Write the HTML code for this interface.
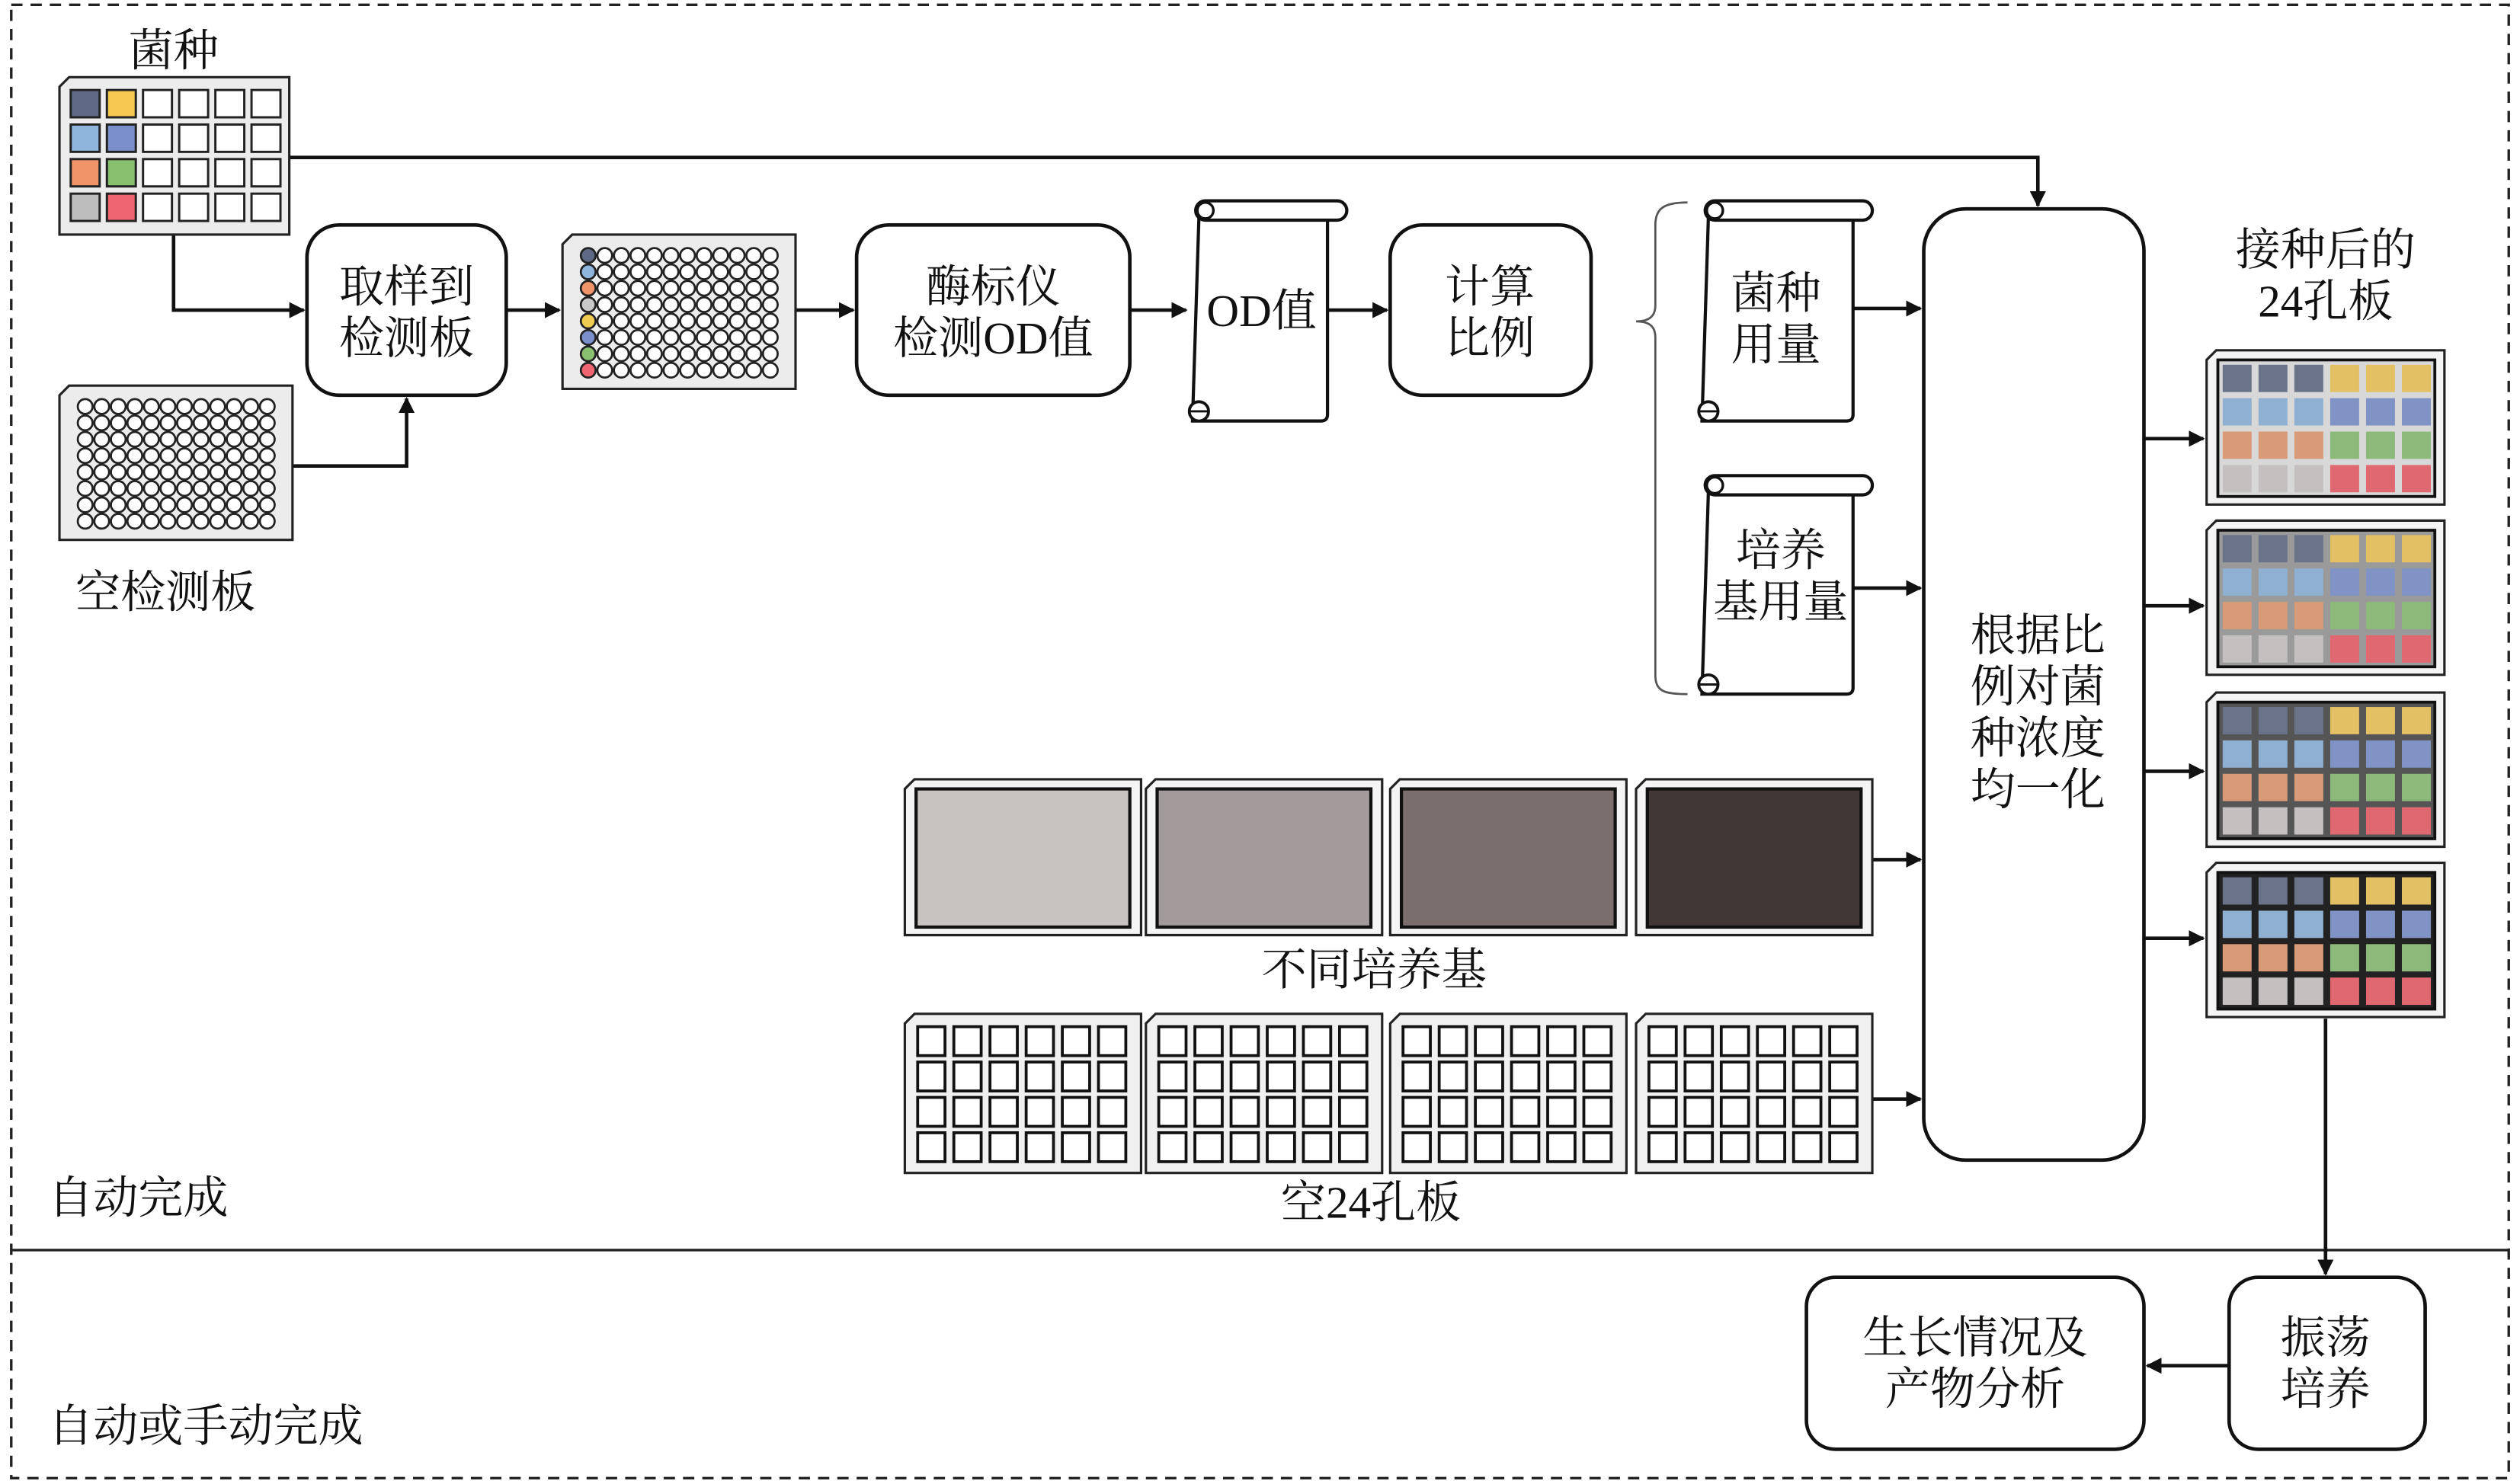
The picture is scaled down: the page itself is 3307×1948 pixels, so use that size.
<!DOCTYPE html>
<html><head><meta charset="utf-8"><style>
html,body{margin:0;padding:0;background:#fff;}
svg{display:block;}
text{font-family:"Liberation Serif","Noto Serif CJK SC",serif;fill:#111;}
</style></head><body>
<svg id="s" width="3307" height="1948" viewBox="0 0 1568 923.6" xmlns="http://www.w3.org/2000/svg">
<defs><marker id="a" markerWidth="10" markerHeight="10" refX="9" refY="5" orient="auto" markerUnits="userSpaceOnUse"><path d="M0,0 L10,5 L0,10 Z" fill="#111"/></marker></defs>
<rect x="7" y="3" width="1554" height="917" fill="none" stroke="#222" stroke-width="1.6" stroke-dasharray="7,5"/>
<line x1="7" y1="778" x2="1561" y2="778" stroke="#222" stroke-width="1.6"/>
<g id="g" stroke="#111" stroke-width="2.2" fill="none">
<rect x="191" y="140" width="124" height="106" rx="20" fill="#fff"/>
<rect x="533" y="140" width="170" height="106" rx="20" fill="#fff"/>
<rect x="865" y="140" width="125" height="106" rx="20" fill="#fff"/>
<rect x="1197" y="130" width="137" height="592" rx="26" fill="#fff"/>
<rect x="1387" y="795" width="122" height="107" rx="18" fill="#fff"/>
<rect x="1124" y="795" width="210" height="107" rx="18" fill="#fff"/>
<polyline points="108,146 108,193 189,193" marker-end="url(#a)"/>
<polyline points="180,290 253,290 253,248" marker-end="url(#a)"/>
<polyline points="180,98 1268,98 1268,128" marker-end="url(#a)"/>
<line x1="315" y1="193" x2="348" y2="193" marker-end="url(#a)"/>
<line x1="495" y1="193" x2="531" y2="193" marker-end="url(#a)"/>
<line x1="703" y1="193" x2="738" y2="193" marker-end="url(#a)"/>
<line x1="826" y1="193" x2="863" y2="193" marker-end="url(#a)"/>
<line x1="1152" y1="192" x2="1195" y2="192" marker-end="url(#a)"/>
<line x1="1152" y1="366" x2="1195" y2="366" marker-end="url(#a)"/>
<line x1="1165" y1="535" x2="1195" y2="535" marker-end="url(#a)"/>
<line x1="1165" y1="684" x2="1195" y2="684" marker-end="url(#a)"/>
<line x1="1334" y1="273" x2="1371" y2="273" marker-end="url(#a)"/>
<line x1="1334" y1="377" x2="1371" y2="377" marker-end="url(#a)"/>
<line x1="1334" y1="480" x2="1371" y2="480" marker-end="url(#a)"/>
<line x1="1334" y1="584" x2="1371" y2="584" marker-end="url(#a)"/>
<line x1="1447" y1="634" x2="1447" y2="793" marker-end="url(#a)"/>
<line x1="1387" y1="850" x2="1336" y2="850" marker-end="url(#a)"/>
<path d="M1050,126 C1035,126 1030,130 1030,140 L1030,190 C1030,197 1026,200 1018,200 C1026,200 1030,203 1030,210 L1030,420 C1030,430 1035,432 1050,432" stroke-width="1.3" stroke="#555"/>
</g>
<g id="dyn"></g>
<g font-size="28" text-anchor="middle">
<text x="108" y="41">菌种</text>
<text x="103" y="378">空检测板</text>
<text x="253" y="188">取样到</text><text x="253" y="220">检测板</text>
<text x="618" y="188">酶标仪</text><text x="618" y="220">检测OD值</text>
<text x="785" y="203">OD值</text>
<text x="927" y="188">计算</text><text x="927" y="220">比例</text>
<text x="1105" y="192">菌种</text><text x="1105" y="224">用量</text>
<text x="1108" y="352">培养</text><text x="1108" y="384">基用量</text>
<text x="1268" y="405">根据比</text><text x="1268" y="437">例对菌</text><text x="1268" y="469">种浓度</text><text x="1268" y="501">均一化</text>
<text x="1447" y="165">接种后的</text><text x="1447" y="197">24孔板</text>
<text x="855" y="613">不同培养基</text>
<text x="853" y="758">空24孔板</text>
<text x="1447" y="842">振荡</text><text x="1447" y="874">培养</text>
<text x="1229" y="842">生长情况及</text><text x="1229" y="874">产物分析</text>
</g>
<g font-size="28">
<text x="30" y="755">自动完成</text>
<text x="30" y="897">自动或手动完成</text>
</g>
</svg>
<script>
var NS="http://www.w3.org/2000/svg",d=document.getElementById("dyn");
function el(t,a){var e=document.createElementNS(NS,t);for(var k in a)e.setAttribute(k,a[k]);d.appendChild(e);return e;}
function plate(x,y,w,h,bg){el("path",{d:"M"+(x+6)+","+y+" L"+(x+w)+","+y+" L"+(x+w)+","+(y+h)+" L"+x+","+(y+h)+" L"+x+","+(y+6)+" Z",fill:bg||"#ececec",stroke:"#222","stroke-width":1.5});}
function scroll(x,y,w,h){
 el("path",{d:"M"+(x+6)+","+(y+10)+" L"+(x+w-12)+","+(y+10)+" L"+(x+w-12)+","+(y+h-4)+" Q"+(x+w-12)+","+(y+h)+" "+(x+w-16)+","+(y+h)+" L"+(x+2)+","+(y+h)+" L"+(x+6)+","+(y+10)+" Z",fill:"#fff",stroke:"#111","stroke-width":2});
 el("rect",{x:x+4,y:y,width:w-4,height:12,rx:6,fill:"#fff",stroke:"#111","stroke-width":2});
 el("circle",{cx:x+10,cy:y+6,r:5,fill:"#fff",stroke:"#111","stroke-width":1.6});
 el("circle",{cx:x+6,cy:y+h-6,r:6,fill:"#fff",stroke:"#111","stroke-width":1.8});
 el("line",{x1:x,y1:y+h-6,x2:x+12,y2:y+h-6,stroke:"#111","stroke-width":1.4});
}
scroll(740,125,98,137);scroll(1057,125,108,137);scroll(1057,296,108,136);
plate(37,48,143,98);
var sc=[["#5e6a85","#f5c850"],["#8fb5dc","#7b8fcc"],["#f0956a","#88c070"],["#bdbdbd","#ef6670"]];
for(var r=0;r<4;r++)for(var c=0;c<6;c++){el("rect",{x:44+c*22.5,y:56+r*21.5,width:18,height:17,fill:c<2?sc[r][c]:"#fff",stroke:"#222","stroke-width":1.4});}
function p96(x,y,col){plate(x,y,145,96);for(var r=0;r<8;r++)for(var c=0;c<12;c++){el("circle",{cx:x+16+c*10.3,cy:y+13+r*10.2,r:4.6,fill:(col&&c==0)?col[r]:"#fff",stroke:"#222","stroke-width":1.3});}}
p96(350,146,["#5e6a85","#8fb5dc","#f0956a","#c8c8c8","#f0cc50","#7b8fcc","#88c070","#ef6670"]);
p96(37,240,null);
var mc=["#c8c2c1","#a39b9b","#7b6f6e","#413836"],xs=[563,713,865,1018];
for(var i=0;i<4;i++){plate(xs[i],485,147,97,"#f4f4f4");el("rect",{x:xs[i]+7,y:491,width:133,height:86,fill:mc[i],stroke:"#111","stroke-width":2});}
for(var i=0;i<4;i++){plate(xs[i],631,147,99,"#f0f0f0");for(var r=0;r<4;r++)for(var c=0;c<6;c++)el("rect",{x:xs[i]+8+c*22.5,y:639+r*22,width:17,height:18,fill:"#fff",stroke:"#111","stroke-width":1.8});}
var L=["#6b7389","#8fb0d0","#d99a78","#c4c0c0"],R=["#e3c064","#7f93c5","#8dba7a","#e06870"],ys=[218,324,431,537],gb=["#d8d8d8","#9a9a9a","#555","#222"];
for(var i=0;i<4;i++){var y=ys[i];plate(1373,y,148,96,"#f4f4f4");el("rect",{x:1380,y:y+6,width:135,height:85,fill:gb[i],stroke:"#111","stroke-width":1.8});
 for(var r=0;r<4;r++)for(var c=0;c<6;c++)el("rect",{x:1383+c*22.3,y:y+9+r*20.8,width:18,height:17,fill:c<3?L[r]:R[r],stroke:"none"});}
</script>
</body></html>
